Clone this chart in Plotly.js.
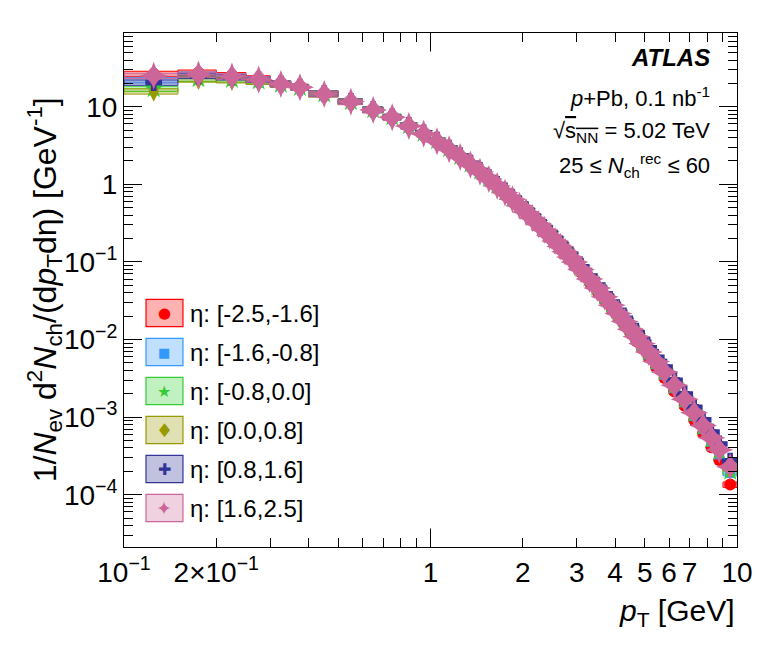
<!DOCTYPE html>
<html>
<head>
<meta charset="utf-8">
<script src="https://cdn.plot.ly/plotly-3.0.1.min.js"></script>
<style>
  html, body { margin: 0; padding: 0; background: #fff; }
  #plot { width: 773px; height: 653px; }
</style>
</head>
<body>
<div id="plot"></div>
<script>
// pT bin edges [GeV]
var ptEdges = [0.1, 0.15, 0.2, 0.25, 0.3, 0.35, 0.4, 0.5, 0.6, 0.7, 0.8, 0.9, 1.0,
  1.1, 1.2, 1.3, 1.4, 1.5, 1.6, 1.7, 1.8, 1.9, 2.0, 2.1, 2.2, 2.3, 2.4, 2.5, 2.6,
  2.7, 2.8, 2.9, 3.0, 3.2, 3.4, 3.6, 3.8, 4.0, 4.2, 4.4, 4.6, 4.8, 5.0, 5.3, 5.6,
  6.0, 6.5, 7.0, 7.5, 8.0, 8.5, 9.0, 10.0];

var etaLabels = ['η: [-2.5,-1.6]', 'η: [-1.6,-0.8]', 'η: [-0.8,0.0]',
  'η: [0.0,0.8]', 'η: [0.8,1.6]', 'η: [1.6,2.5]'];

// 1/Nev d2N/(dpT deta) per eta slice
var specM25M16 = [26.5, 27.5, 25.5, 23.2, 20.0, 18.1, 14.8, 11.7, 9.15, 7.3, 5.6, 4.45,
  3.55, 2.79, 2.2, 1.75, 1.41, 1.13, 0.915, 0.75, 0.613, 0.506, 0.419, 0.348, 0.291,
  0.244, 0.205, 0.173, 0.147, 0.125, 0.107, 0.092, 0.073, 0.055, 0.0417, 0.032, 0.0247,
  0.0192, 0.015, 0.0119, 0.0095, 0.0077, 0.0059, 0.0044, 0.0032, 0.00214, 0.0014,
  0.00092, 0.00062, 0.00041, 0.00028, 0.000135];
var specM16M08 = [22, 26, 24.5, 22.7, 19.8, 17.9, 14.7, 11.65, 9.1, 7.28, 5.62, 4.47,
  3.57, 2.81, 2.22, 1.77, 1.43, 1.15, 0.93, 0.765, 0.626, 0.517, 0.429, 0.357, 0.299,
  0.251, 0.212, 0.179, 0.152, 0.130, 0.111, 0.096, 0.0765, 0.0577, 0.0439, 0.0337,
  0.0262, 0.0204, 0.016, 0.0127, 0.0102, 0.0083, 0.0064, 0.0048, 0.0035, 0.00236,
  0.00155, 0.00103, 0.0007, 0.00048, 0.00033, 0.00019];
var specM08P00 = [17, 23, 22.5, 21.5, 19.4, 17.7, 14.6, 11.6, 9.15, 7.35, 5.7, 4.55,
  3.65, 2.88, 2.29, 1.83, 1.48, 1.19, 0.97, 0.797, 0.655, 0.543, 0.451, 0.376, 0.316,
  0.266, 0.225, 0.191, 0.162, 0.138, 0.119, 0.102, 0.082, 0.0618, 0.0471, 0.0362,
  0.0281, 0.0219, 0.0172, 0.0137, 0.011, 0.0089, 0.0069, 0.0052, 0.0038, 0.00256,
  0.00167, 0.00111, 0.00075, 0.00052, 0.00036, 0.0002];
var specP00P08 = [15.8, 22.5, 22, 21, 19.2, 17.6, 14.5, 11.55, 9.1, 7.32, 5.68, 4.53,
  3.63, 2.87, 2.28, 1.82, 1.47, 1.18, 0.96, 0.79, 0.65, 0.538, 0.447, 0.373, 0.313,
  0.263, 0.222, 0.189, 0.16, 0.137, 0.118, 0.101, 0.081, 0.0612, 0.0466, 0.0359,
  0.0279, 0.0218, 0.0172, 0.0137, 0.011, 0.009, 0.007, 0.0053, 0.0039, 0.00262,
  0.00172, 0.00116, 0.00079, 0.00055, 0.00039, 0.00022];
var specP08P16 = [20.5, 25, 24, 22.3, 19.7, 17.9, 14.7, 11.7, 9.2, 7.4, 5.75, 4.6,
  3.7, 2.93, 2.33, 1.87, 1.51, 1.22, 0.995, 0.82, 0.675, 0.56, 0.467, 0.39, 0.328,
  0.276, 0.234, 0.199, 0.169, 0.145, 0.125, 0.108, 0.0868, 0.0657, 0.0503, 0.0389,
  0.0303, 0.0238, 0.0188, 0.0151, 0.0122, 0.01, 0.0078, 0.0059, 0.0044, 0.00299,
  0.00198, 0.00134, 0.00092, 0.00064, 0.00045, 0.00027];
var specP16P25 = [25, 26, 24.5, 22.5, 19.6, 17.8, 14.6, 11.6, 9.1, 7.3, 5.65, 4.5,
  3.6, 2.84, 2.25, 1.8, 1.45, 1.17, 0.95, 0.78, 0.64, 0.53, 0.44, 0.367, 0.308,
  0.259, 0.219, 0.186, 0.158, 0.135, 0.116, 0.1, 0.08, 0.0604, 0.0461, 0.0355,
  0.0276, 0.0216, 0.017, 0.0136, 0.0109, 0.0089, 0.0069, 0.0052, 0.0038, 0.00258,
  0.0017, 0.00114, 0.00078, 0.00054, 0.00038, 0.00023];

var spectra = [specM25M16, specM16M08, specM08P00, specP00P08, specP08P16, specP16P25];

// styles
var colors = ['#ff0000', '#3399ff', '#33cc33', '#999900', '#333399', '#cc6699'];
var fills = ['rgba(255,0,0,0.3)', 'rgba(51,153,255,0.3)', 'rgba(51,204,51,0.3)',
  'rgba(153,153,0,0.3)', 'rgba(51,51,153,0.3)', 'rgba(204,102,153,0.3)'];
var symbols = ['circle', 'square', 'star', 'diamond-tall', 'cross', 'star-diamond'];
var sizes = [12, 10, 15, 15, 14, 20];
var glyphs = ['●', '■', '★', '♦', '✚', '✦'];
var glyphSizes = [15, 13, 16, 19, 16, 19];
var sysRel = 0.08;

var centers = [];
for (var i = 0; i < ptEdges.length - 1; i++) {
  centers.push((ptEdges[i] + ptEdges[i + 1]) / 2);
}

var data = [];
// systematic boxes
spectra.forEach(function (vals, s) {
  var bx = [], by = [];
  vals.forEach(function (v, i) {
    var lo = ptEdges[i], hi = ptEdges[i + 1];
    bx.push(lo, hi, hi, lo, lo, null);
    by.push(v * (1 - sysRel), v * (1 - sysRel), v * (1 + sysRel), v * (1 + sysRel), v * (1 - sysRel), null);
  });
  data.push({
    x: bx, y: by, type: 'scatter', mode: 'lines', fill: 'toself',
    fillcolor: fills[s], line: { color: colors[s], width: 1 },
    hoverinfo: 'skip', showlegend: false
  });
});
// points
spectra.forEach(function (vals, s) {
  data.push({
    x: centers, y: vals, type: 'scatter', mode: 'markers', name: etaLabels[s],
    marker: { symbol: symbols[s], size: sizes[s], color: colors[s], line: { width: 0 } },
    showlegend: false
  });
});

// minor ticks
var yMinor = [];
for (var d = -5; d <= 1; d++) {
  for (var k = 2; k <= 9; k++) yMinor.push(k * Math.pow(10, d));
}
var xMinor = [0.3, 0.4, 0.5, 0.6, 0.7, 0.8, 0.9, 8, 9];

var annotations = [];
var shapes = [];

// legend, drawn by hand (box + marker glyph + text)
var legTop = 313, legStep = 39;
etaLabels.forEach(function (lab, s) {
  var yc = (547 - (legTop + s * legStep)) / 514;
  shapes.push({
    type: 'rect', xref: 'paper', yref: 'paper',
    x0: 0.0359, x1: 0.0962, y0: yc - 0.0265, y1: yc + 0.0265,
    fillcolor: fills[s], line: { color: colors[s], width: 1.2 }
  });
  annotations.push({
    xref: 'paper', yref: 'paper', x: 0.066, y: yc, text: glyphs[s],
    showarrow: false, xanchor: 'center', yanchor: 'middle',
    font: { family: 'DejaVu Sans', size: glyphSizes[s], color: colors[s] }
  });
  annotations.push({
    xref: 'paper', yref: 'paper', x: 0.104, y: yc, text: lab,
    showarrow: false, xanchor: 'left', yanchor: 'middle',
    font: { family: 'Liberation Sans', size: 24, color: '#000' }
  });
});

// long tick at pT = 1 (bottom and top)
shapes.push({ type: 'line', xref: 'x', yref: 'paper', x0: 1, x1: 1, y0: 0, y1: 0.036, line: { color: '#000', width: 1 } });
shapes.push({ type: 'line', xref: 'x', yref: 'paper', x0: 1, x1: 1, y0: 0.964, y1: 1, line: { color: '#000', width: 1 } });

var txt = { family: 'Liberation Sans', size: 22, color: '#000' };
annotations.push(
  { xref: 'paper', yref: 'paper', x: 0.959, y: 0.953, text: '<b><i>ATLAS</i></b>', showarrow: false, xanchor: 'right', yanchor: 'middle', font: { family: 'Liberation Sans', size: 24, color: '#000' } },
  { xref: 'paper', yref: 'paper', x: 0.959, y: 0.876, text: '<i>p</i>+Pb, 0.1 nb<sup>-1</sup>', showarrow: false, xanchor: 'right', yanchor: 'middle', font: txt },
  { xref: 'paper', yref: 'paper', x: 0.959, y: 0.807, text: '√<span style="text-decoration:overline">s<sub>NN</sub></span> = 5.02 TeV', showarrow: false, xanchor: 'right', yanchor: 'middle', font: txt },
  { xref: 'paper', yref: 'paper', x: 0.959, y: 0.743, text: '25 ≤ <i>N</i><sub>ch</sub><sup>rec</sup> ≤ 60', showarrow: false, xanchor: 'right', yanchor: 'middle', font: txt },
  { xref: 'paper', yref: 'paper', x: -0.13, y: 0.5, textangle: -90, showarrow: false, xanchor: 'center', yanchor: 'middle',
    text: '1/<i>N</i><sub>ev</sub> d<sup>2</sup><i>N</i><sub>ch</sub>/(d<i>p</i><sub>T</sub>dη) [GeV<sup>-1</sup>]',
    font: { family: 'Liberation Sans', size: 32, color: '#000' } },
  { xref: 'paper', yref: 'paper', x: 1, y: -0.127, showarrow: false, xanchor: 'right', yanchor: 'middle',
    text: '<i>p</i><sub>T</sub> [GeV]', font: { family: 'Liberation Sans', size: 30, color: '#000' } }
);

var layout = {
  width: 773, height: 653,
  margin: { l: 124, r: 36, t: 33, b: 106 },
  paper_bgcolor: '#fff', plot_bgcolor: '#fff',
  showlegend: false,
  font: { family: 'Liberation Sans', size: 28, color: '#000' },
  xaxis: {
    type: 'log', range: [-1, 1],
    tickvals: [0.1, 0.2, 1, 2, 3, 4, 5, 6, 7, 10],
    ticktext: ['10<sup>−1</sup>', '2×10<sup>−1</sup>', '1', '2', '3', '4', '5', '6', '7', '10'],
    ticks: 'inside', ticklen: 9, tickcolor: '#000', tickwidth: 1,
    minor: { tickvals: xMinor, ticks: 'inside', ticklen: 9, tickcolor: '#000' },
    showline: true, linecolor: '#000', linewidth: 1, mirror: 'allticks',
    showgrid: false, zeroline: false,
    tickfont: { family: 'Liberation Sans', size: 28 }
  },
  yaxis: {
    type: 'log', range: [-4.674, 1.95],
    tickvals: [1e-4, 1e-3, 1e-2, 1e-1, 1, 10],
    ticktext: ['10<sup>−4</sup>', '10<sup>−3</sup>', '10<sup>−2</sup>', '10<sup>−1</sup>', '1', '10'],
    ticks: 'inside', ticklen: 18, tickcolor: '#000', tickwidth: 1,
    minor: { tickvals: yMinor, ticks: 'inside', ticklen: 9, tickcolor: '#000' },
    showline: true, linecolor: '#000', linewidth: 1, mirror: 'allticks',
    showgrid: false, zeroline: false,
    tickfont: { family: 'Liberation Sans', size: 28 }
  },
  shapes: shapes,
  annotations: annotations
};

Plotly.newPlot('plot', data, layout, { staticPlot: true, displayModeBar: false });
</script>
</body>
</html>
